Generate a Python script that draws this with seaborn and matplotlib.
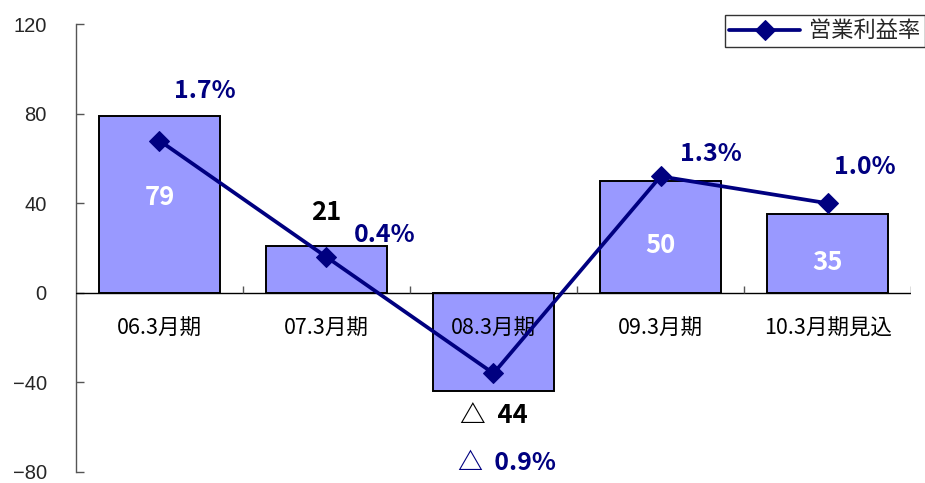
import matplotlib
matplotlib.use("Agg")
import matplotlib.pyplot as plt
import seaborn as sns
import numpy as np
import pandas as pd

# data
periods = ["06.3月期", "07.3月期", "08.3月期", "09.3月期", "10.3月期見込"]
profit = [79, 21, -44, 50, 35]            # 営業利益 (bars)
margin = [1.7, 0.4, -0.9, 1.3, 1.0]       # 営業利益率 % (line)

sns.set_theme(style="white")
plt.rcParams['font.family'] = ['Noto Sans CJK JP', 'DejaVu Sans']

df = pd.DataFrame({"period": periods, "profit": profit})

fig = plt.figure(figsize=(9.25, 4.83), dpi=100)
ax = fig.add_axes([0.082, 0.023, 0.903, 0.927])

sns.barplot(data=df, x="period", y="profit", ax=ax, color="#9999FF",
            saturation=1, width=0.72, edgecolor="black", linewidth=1.4)
ax.set_ylim(-80, 120)
ax.set_xlim(-0.5, len(periods) - 0.5)
ax.set_yticks(np.arange(-80, 121, 40))
ax.tick_params(axis="y", direction="in", length=6, width=1, color="#555555",
               labelsize=14.5, pad=21, left=True)
for lbl in ax.get_yticklabels():
    lbl.set_family(["Liberation Sans", "DejaVu Sans"])
ax.set_xticks([])
ax.set_xlabel("")
ax.set_ylabel("")
for s in ["top", "right", "bottom"]:
    ax.spines[s].set_visible(False)
ax.spines["left"].set_color("#555555")
ax.spines["left"].set_linewidth(1)

# zero line with category divider ticks
ax.axhline(0, color="black", lw=1, zorder=3)
ax.vlines(np.arange(len(periods)) + 0.5, 0, 3, color="#555555", lw=1, zorder=3)

# category labels sitting just below the zero line
for i, p in enumerate(periods):
    ax.text(i, -16, p, ha="center", va="center", fontsize=15.5, color="black", zorder=4)

# bar value labels
for i, v in enumerate(profit):
    if v < 0:
        ax.text(i, v - 11, f"△  {abs(v)}", ha="center", va="center", fontsize=18.5,
                fontweight="bold", color="black", zorder=5)
    elif v < 30:
        ax.text(i, v + 15, f"{v}", ha="center", va="center", fontsize=18.5,
                fontweight="bold", color="black", zorder=5)
    else:
        ax.text(i, v * 0.5 + 3 if v > 60 else v * 0.5 - 4, f"{v}", ha="center", va="center",
                fontsize=18.5, fontweight="bold", color="white", zorder=5)

# margin line on hidden secondary axis
ax2 = ax.twinx()
ax2.set_ylim(-2, 3)
ax2.axis("off")
sns.lineplot(x=np.arange(len(periods)), y=margin, ax=ax2, color="#000080", lw=2.7,
             marker="D", markersize=10.5, markeredgecolor="#000080", label="営業利益率",
             legend=False, zorder=6)

pct_offsets = [(0.27, 0.55), (0.35, 0.25), (0.08, -1.0), (0.3, 0.25), (0.22, 0.4)]
for i, m in enumerate(margin):
    dx, dy = pct_offsets[i]
    txt = f"△  {abs(m):.1f}%" if m < 0 else f"{m:.1f}%"
    ax2.text(i + dx, m + dy, txt, ha="center", va="center", fontsize=18,
             fontweight="bold", color="#000080", zorder=7)

leg = ax2.legend(loc="upper right", bbox_to_anchor=(1.012, 0.992), bbox_transform=fig.transFigure,
                 fontsize=16, frameon=True, fancybox=False, borderpad=0.2,
                 handlelength=3.2, handletextpad=0.4)
leg.get_frame().set_edgecolor("black")
leg.get_frame().set_linewidth(1)

fig.savefig("out.png", dpi=100)
